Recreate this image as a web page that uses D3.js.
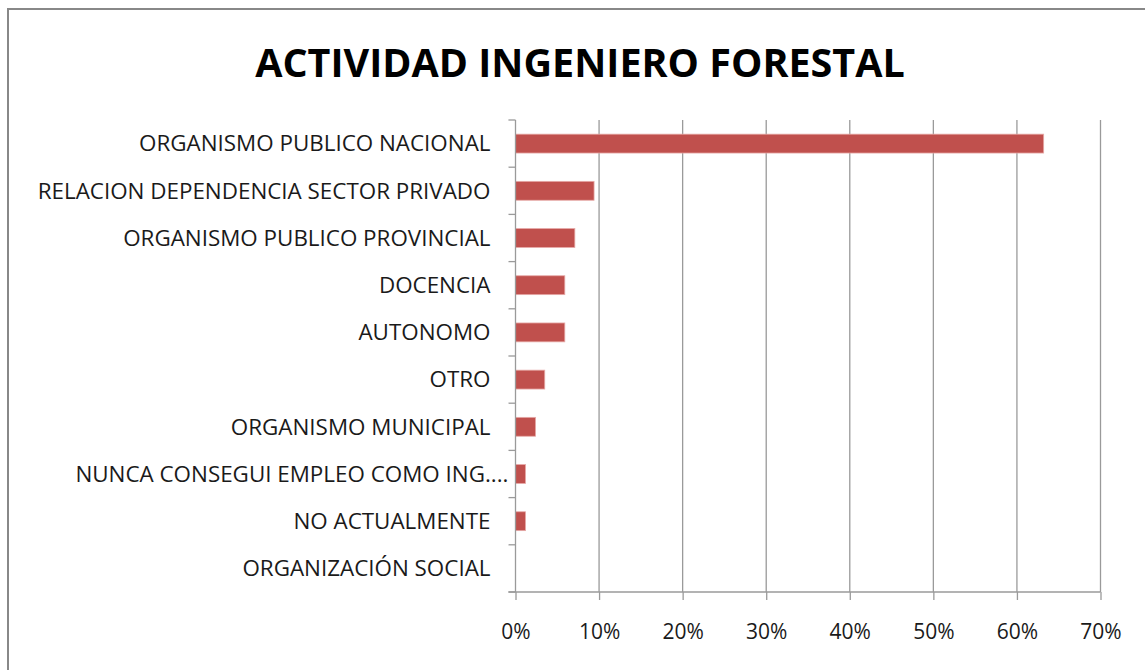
<!DOCTYPE html>
<html>
<head>
<meta charset="utf-8">
<script src="https://cdn.jsdelivr.net/npm/d3@7"></script>
<style>
  body { margin: 0; background: #fff; }
  text { font-family: "Open Sans", "Liberation Sans", sans-serif; }
</style>
</head>
<body>
<div id="chart"></div>
<script>
// categories top to bottom, values in percent
var categories = ["ORGANISMO PUBLICO NACIONAL", "RELACION DEPENDENCIA SECTOR PRIVADO",
                  "ORGANISMO PUBLICO PROVINCIAL", "DOCENCIA", "AUTONOMO", "OTRO",
                  "ORGANISMO MUNICIPAL", "NUNCA CONSEGUI EMPLEO COMO ING....",
                  "NO ACTUALMENTE", "ORGANIZACIÓN SOCIAL"]
var values = [63.2, 9.4, 7.1, 5.9, 5.9, 3.5, 2.4, 1.2, 1.2, 0]
var xTicks = [0, 10, 20, 30, 40, 50, 60, 70]
var title = "ACTIVIDAD INGENIERO FORESTAL"

var W = 1145, H = 670
var margin = {top: 120, right: 44.5, bottom: 78, left: 515.5}

var svg = d3.select("#chart").append("svg")
  .attr("width", W).attr("height", H)

// outer frame
svg.append("rect")
  .attr("x", 8).attr("y", 9).attr("width", W + 20).attr("height", H + 20)
  .attr("fill", "#fff").attr("stroke", "#888").attr("stroke-width", 2)

svg.append("text")
  .attr("x", 580).attr("y", 77)
  .attr("text-anchor", "middle")
  .style("font-size", "39.5px").style("font-weight", "bold")
  .attr("fill", "#000")
  .text(title)

var x = d3.scaleLinear().domain([0, 70]).range([margin.left, W - margin.right])
var y = d3.scaleBand().domain(categories)
  .range([margin.top, H - margin.bottom])
  .paddingInner(0.6).paddingOuter(0.3)

// grid
svg.append("g")
  .selectAll("line")
  .data(xTicks.slice(1))
  .join("line")
    .attr("x1", d => x(d)).attr("x2", d => x(d))
    .attr("y1", margin.top).attr("y2", H - margin.bottom)
    .attr("stroke", "#9a9a9a").attr("stroke-width", 1.3)

// bars
svg.append("g")
  .selectAll("rect")
  .data(values)
  .join("rect")
    .attr("x", x(0))
    .attr("y", (d, i) => y(categories[i]))
    .attr("width", d => x(d) - x(0))
    .attr("height", y.bandwidth())
    .attr("fill", "#C0504D")
    .attr("stroke", d => d > 0 ? "#e7a9a7" : "none")
    .attr("stroke-width", 0.8)

// y axis: line and ticks at band boundaries
var yAxis = svg.append("g")
yAxis.append("line")
  .attr("x1", x(0)).attr("x2", x(0))
  .attr("y1", margin.top).attr("y2", H - margin.bottom)
  .attr("stroke", "#9a9a9a").attr("stroke-width", 1.3)
yAxis.selectAll(".yt")
  .data(d3.range(categories.length + 1))
  .join("line")
    .attr("class", "yt")
    .attr("x1", x(0) - 7).attr("x2", x(0))
    .attr("y1", i => margin.top + i * y.step())
    .attr("y2", i => margin.top + i * y.step())
    .attr("stroke", "#9a9a9a").attr("stroke-width", 1.3)
yAxis.selectAll(".yl")
  .data(categories)
  .join("text")
    .attr("class", "yl")
    .attr("x", d => d.endsWith("....") ? x(0) - 7 : x(0) - 25)
    .attr("y", d => y(d) + y.bandwidth() / 2)
    .attr("dy", "0.35em")
    .attr("text-anchor", "end")
    .style("font-size", "22.4px")
    .attr("fill", "#1a1a1a")
    .text(d => d)

// x axis
var xAxis = svg.append("g")
  .attr("transform", `translate(0,${H - margin.bottom})`)
  .call(d3.axisBottom(x).tickValues(xTicks).tickSize(8).tickFormat(d => d + "%"))
xAxis.select(".domain").remove()
xAxis.append("line")
  .attr("x1", x(0) - 7).attr("x2", x(70))
  .attr("stroke", "#9a9a9a").attr("stroke-width", 1.3)
xAxis.selectAll(".tick line").attr("stroke", "#9a9a9a").attr("stroke-width", 1.3)
xAxis.selectAll(".tick text")
  .attr("y", 32)
  .style("font-size", "21px")
  .style("font-family", "'Open Sans', sans-serif")
  .attr("fill", "#1a1a1a")
</script>
</body>
</html>
